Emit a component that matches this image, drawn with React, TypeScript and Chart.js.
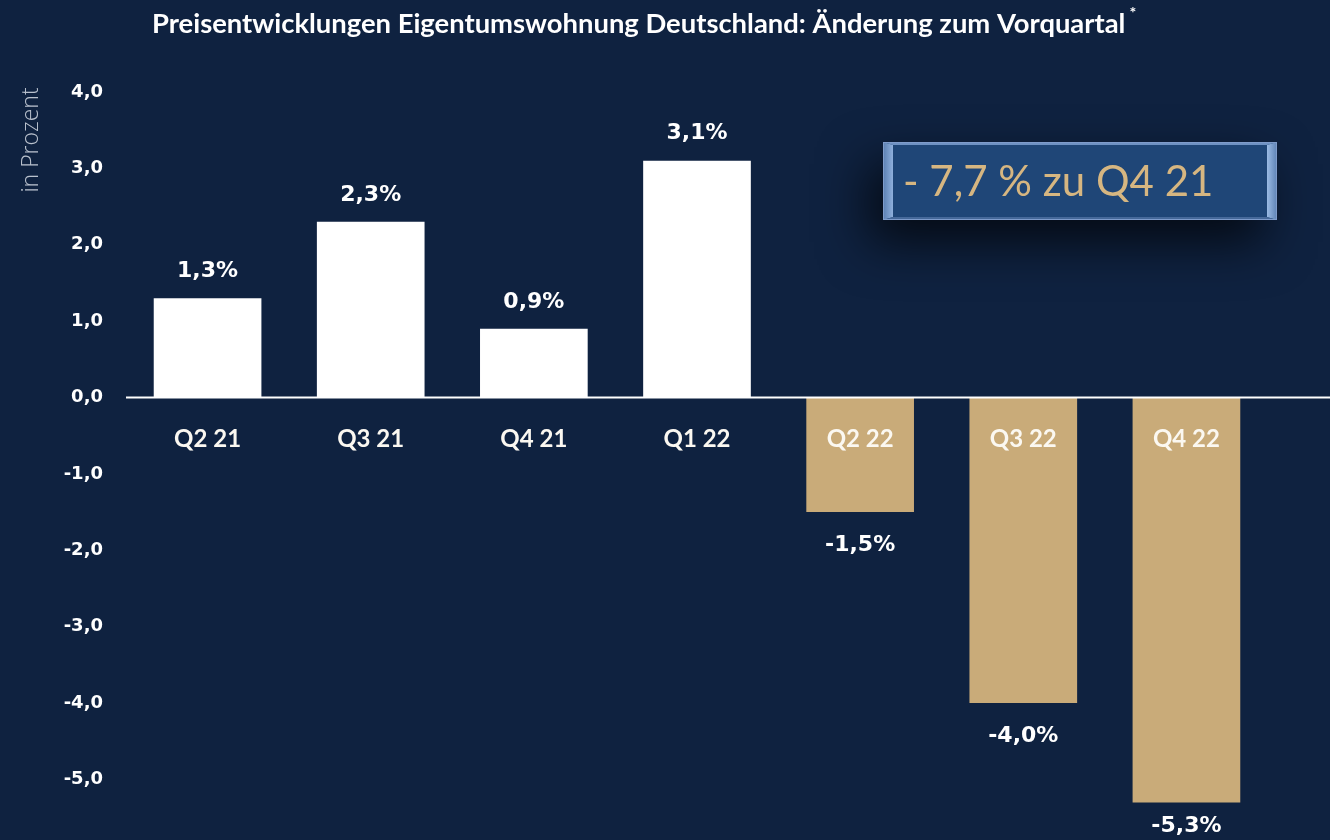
import React, { useEffect, useRef } from "react";
import { Chart, registerables } from "chart.js";

Chart.register(...registerables);

const TITLE = "Preisentwicklungen Eigentumswohnung Deutschland: Änderung zum Vorquartal";
const TITLE_MARK = "*";
const Y_TITLE = "in Prozent";
const CATEGORIES = ["Q2 21", "Q3 21", "Q4 21", "Q1 22", "Q2 22", "Q3 22", "Q4 22"];
const VALUES = [1.3, 2.3, 0.9, 3.1, -1.5, -4.0, -5.3];
const Y_TICKS = [-5, -4, -3, -2, -1, 0, 1, 2, 3, 4];
const CALLOUT = "- 7,7 % zu Q4 21";

const BG = "#0f2240";
const WHITE = "#ffffff";
const GOLD = "#c9ab79";

const fmt = (v: number) => v.toFixed(1).replace(".", ",");

export default function App() {
  const ref = useRef<HTMLCanvasElement | null>(null);

  useEffect(() => {
    document.body.style.margin = "0";
    document.body.style.background = BG;
    const canvas = ref.current;
    if (!canvas) return;

    const bgPlugin = {
      id: "bg",
      beforeDraw(chart: any) {
        const { ctx, width, height } = chart;
        ctx.save();
        ctx.fillStyle = BG;
        ctx.fillRect(0, 0, width, height);
        ctx.restore();
      },
    };

    const overlayPlugin = {
      id: "overlay",
      afterDatasetsDraw(chart: any) {
        const { ctx, chartArea, width, height } = chart;
        const y0 = chart.scales.y.getPixelForValue(0);
        ctx.save();
        ctx.strokeStyle = WHITE;
        ctx.lineWidth = 2;
        ctx.beginPath();
        ctx.moveTo(chartArea.left, y0);
        ctx.lineTo(width, y0);
        ctx.stroke();

        const meta = chart.getDatasetMeta(0);
        ctx.font = "bold 22px 'DejaVu Sans'";
        ctx.fillStyle = WHITE;
        ctx.textAlign = "center";
        ctx.textBaseline = "middle";
        meta.data.forEach((bar: any, i: number) => {
          const v = VALUES[i];
          const ty = v >= 0 ? bar.y - 27 : Math.min(bar.y + 33, height - 14);
          ctx.fillText(fmt(v) + "%", bar.x, ty);
        });
        ctx.restore();
      },
      afterDraw(chart: any) {
        const { ctx } = chart;
        ctx.save();
        // title
        ctx.fillStyle = WHITE;
        ctx.font = "bold 27.4px Lato";
        ctx.textAlign = "left";
        ctx.textBaseline = "middle";
        ctx.fillText(TITLE, 152, 24);
        const tw = ctx.measureText(TITLE).width;
        ctx.font = "bold 16px Lato";
        ctx.fillText(TITLE_MARK, 152 + tw + 4, 13);

        // y title
        ctx.save();
        ctx.translate(31, 140);
        ctx.rotate(-Math.PI / 2);
        ctx.font = "300 23px 'Open Sans'";
        ctx.fillStyle = "#b9c1cd";
        ctx.textAlign = "center";
        ctx.textBaseline = "middle";
        ctx.fillText(Y_TITLE, 0, 0);
        ctx.restore();

        // callout box
        const bx = 883, by = 142, bw = 394, bh = 78, bl = 10, bt = 3;
        ctx.save();
        ctx.shadowColor = "rgba(0,0,0,0.7)";
        ctx.shadowBlur = 50;
        ctx.shadowOffsetX = -14;
        ctx.shadowOffsetY = 22;
        ctx.fillStyle = "#234a7b";
        ctx.fillRect(bx, by, bw, bh);
        ctx.restore();

        ctx.fillStyle = "#1f4677";
        ctx.fillRect(bx, by, bw, bh);
        const poly = (pts: number[][], fill: any) => {
          ctx.beginPath();
          ctx.moveTo(pts[0][0], pts[0][1]);
          for (let k = 1; k < pts.length; k++) ctx.lineTo(pts[k][0], pts[k][1]);
          ctx.closePath();
          ctx.fillStyle = fill;
          ctx.fill();
        };
        const gl = ctx.createLinearGradient(bx, 0, bx + bl, 0);
        gl.addColorStop(0, "#5a7fb2");
        gl.addColorStop(1, "#8fb0dc");
        poly([[bx, by], [bx + bl, by + bt], [bx + bl, by + bh - bt], [bx, by + bh]], gl);
        const gr = ctx.createLinearGradient(bx + bw - bl, 0, bx + bw, 0);
        gr.addColorStop(0, "#9bbbe4");
        gr.addColorStop(1, "#5d82b5");
        poly([[bx + bw, by], [bx + bw - bl, by + bt], [bx + bw - bl, by + bh - bt], [bx + bw, by + bh]], gr);
        poly([[bx, by], [bx + bw, by], [bx + bw - bl, by + bt], [bx + bl, by + bt]], "#6f92c3");
        poly([[bx, by + bh], [bx + bw, by + bh], [bx + bw - bl, by + bh - bt], [bx + bl, by + bh - bt]], "#46699a");
        ctx.strokeStyle = "#7f9ccb";
        ctx.lineWidth = 1;
        ctx.strokeRect(bx + 0.5, by + 0.5, bw - 1, bh - 1);

        ctx.fillStyle = "#d6b681";
        ctx.font = "42px Lato";
        ctx.textAlign = "left";
        ctx.textBaseline = "middle";
        ctx.fillText(CALLOUT, 903, 182);
        ctx.restore();
      },
    };

    const chart = new Chart(canvas, {
      type: "bar",
      data: {
        labels: CATEGORIES,
        datasets: [
          {
            data: VALUES,
            backgroundColor: VALUES.map((v) => (v >= 0 ? WHITE : GOLD)),
            borderWidth: 0,
            categoryPercentage: 1,
            barPercentage: 0.66,
          },
        ],
      },
      options: {
        animation: false,
        responsive: false,
        maintainAspectRatio: false,
        layout: { padding: { top: 92, right: 62, left: 0, bottom: 0 } },
        plugins: {
          legend: { display: false },
          tooltip: { enabled: false },
          title: { display: false },
        },
        scales: {
          x: {
            position: { y: 0 } as any,
            grid: { display: false, drawTicks: false },
            border: { display: false },
            ticks: {
              z: 2,
              color: "#fbf8f1",
              font: { family: "Lato", weight: "bold", size: 24 },
              padding: 27,
              maxRotation: 0,
            } as any,
          },
          y: {
            min: -5.35,
            max: 4,
            grid: { display: false, drawTicks: false },
            border: { display: false },
            afterBuildTicks: (axis: any) => {
              axis.ticks = Y_TICKS.map((v) => ({ value: v }));
            },
            afterFit: (axis: any) => {
              axis.width = 126;
            },
            ticks: {
              color: WHITE,
              padding: 23,
              font: { family: "DejaVu Sans", weight: "bold", size: 18 },
              callback: (v: any) => fmt(Number(v)),
            },
          },
        },
      },
      plugins: [bgPlugin, overlayPlugin],
    });

    return () => chart.destroy();
  }, []);

  return (
    <div style={{ width: 1330, height: 840, position: "relative", overflow: "hidden" }}>
      <canvas ref={ref} width={1330} height={840} style={{ display: "block", width: 1330, height: 840 }} />
    </div>
  );
}
